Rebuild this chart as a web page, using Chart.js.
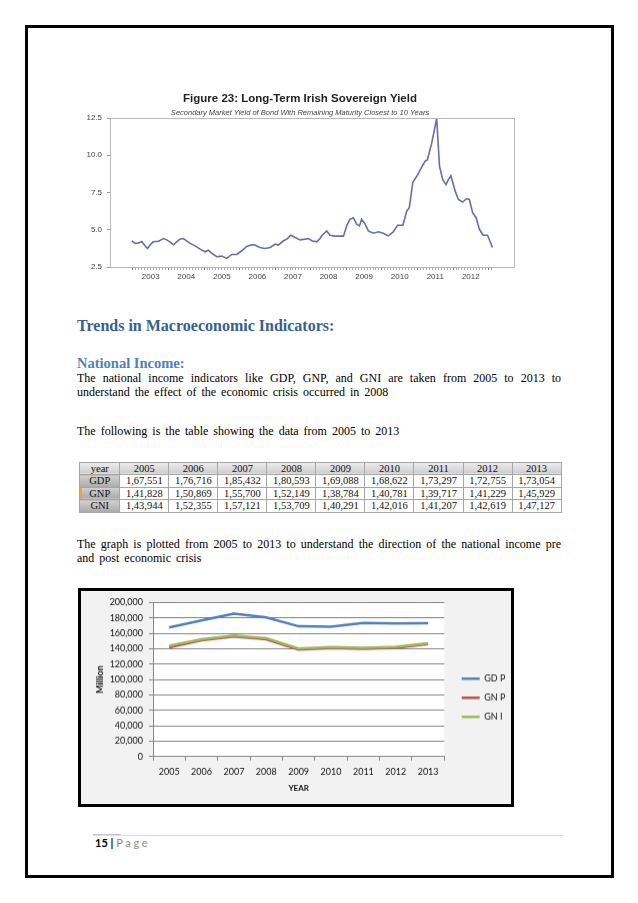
<!DOCTYPE html>
<html>
<head>
<meta charset="utf-8">
<script src="https://cdn.jsdelivr.net/npm/chart.js@4.4.1/dist/chart.umd.min.js"></script>
<style>
  html, body { margin: 0; padding: 0; background: #fff; }
  body { width: 638px; height: 903px; position: relative; overflow: hidden; }
  .abs { position: absolute; }
  #frame { left: 25px; top: 25px; width: 588.5px; height: 852.5px; border: 3px solid #000; box-sizing: border-box; }
  .txt { font-family: "Liberation Serif", serif; font-size: 12px; line-height: 12px; word-spacing: 2px; color: #000; white-space: nowrap; }
  .just { white-space: normal; text-align: justify; text-align-last: justify; width: 484px; }
  #h1 { font-family: "Liberation Serif", serif; font-weight: bold; font-size: 16px; line-height: 16px; color: #365f91; white-space: nowrap; }
  #h2 { font-family: "Liberation Serif", serif; font-weight: bold; font-size: 14.5px; line-height: 14.5px; color: #4f81bd; white-space: nowrap; }
  #incomeTable { left: 79.3px; top: 461.7px; width: 482.4px; border-collapse: collapse; table-layout: fixed;
    font-family: "Liberation Serif", serif; font-size: 10.5px; }
  #incomeTable td { border: 1px solid #a6a6a6; padding: 0; text-align: center; line-height: 11px; height: 11.5px; color: #111; }
  #incomeTable tr.head td { background: linear-gradient(#ededed, #cdcdcd); }
  #incomeTable td.name { background: linear-gradient(#d2d2d2, #a9a9a9); }
  #chartBox { left: 77.7px; top: 588.3px; width: 436.3px; height: 218.4px; border: 3px solid #000; box-sizing: border-box; background: #f2f2f2; }
  #footLine { left: 93px; top: 834.5px; width: 470px; height: 1px; background: #dcdcdc; }
  #footMark { left: 93px; top: 834px; width: 28px; height: 1px; background: #c4c4c4; }
  #footer { left: 95px; top: 836px; font-family: Lato, sans-serif; font-size: 11px; line-height: 14px; white-space: nowrap; }
</style>
</head>
<body>
<div id="frame" class="abs"></div>

<div class="abs" style="left:70px;top:90px;width:460px;height:200px"><canvas id="yieldChart"></canvas></div>

<div id="h1" class="abs" style="left:77px;top:318.3px">Trends in Macroeconomic Indicators:</div>
<div id="h2" class="abs" style="left:77px;top:356.2px">National Income:</div>
<div class="abs txt just" style="left:77px;top:371.6px">The national income indicators like GDP, GNP, and GNI are taken from 2005 to 2013 to</div>
<div class="abs txt" style="left:77px;top:386px">understand the effect of the economic crisis occurred in 2008</div>
<div class="abs txt" style="left:77px;top:425px">The following is the table showing the data from 2005 to 2013</div>

<table id="incomeTable" class="abs"></table>

<div class="abs txt just" style="left:77px;top:538.3px">The graph is plotted from 2005 to 2013 to understand the direction of the national income pre</div>
<div class="abs txt" style="left:77px;top:552.3px">and post economic crisis</div>

<div id="chartBox" class="abs"></div>
<div class="abs" style="left:80.7px;top:591.3px;width:440px;height:212.4px"><canvas id="incomeChart"></canvas></div>

<div id="footMark" class="abs"></div>
<div id="footLine" class="abs"></div>
<div id="footer" class="abs"><b>15</b> <b>|</b> <span style="color:#8a8a8a;letter-spacing:2.6px">Page</span></div>

<script>
// Figure 23: long-term Irish sovereign yield
const yieldDates = [
  2002.97, 2003.06, 2003.15, 2003.25, 2003.34, 2003.41, 2003.50, 2003.57, 2003.72, 2003.86,
  2003.95, 2004.04, 2004.14, 2004.23, 2004.32, 2004.42, 2004.51, 2004.60, 2004.75, 2004.89,
  2005.03, 2005.12, 2005.22, 2005.36, 2005.50, 2005.64, 2005.78, 2005.92, 2006.06, 2006.20,
  2006.34, 2006.43, 2006.57, 2006.71, 2006.86, 2007.00, 2007.09, 2007.23, 2007.33, 2007.44,
  2007.56, 2007.70, 2007.84, 2007.93, 2008.03, 2008.17, 2008.26, 2008.31, 2008.45, 2008.54,
  2008.68, 2008.92, 2009.01, 2009.10, 2009.20, 2009.29, 2009.37, 2009.43, 2009.53, 2009.62,
  2009.76, 2009.90, 2010.04, 2010.18, 2010.32, 2010.44, 2010.59, 2010.70, 2010.77, 2010.87,
  2010.98, 2011.07, 2011.21, 2011.28, 2011.40, 2011.54, 2011.62, 2011.71, 2011.80, 2011.87,
  2011.94, 2012.06, 2012.15, 2012.27, 2012.38, 2012.46, 2012.55, 2012.65, 2012.74, 2012.85,
  2012.97, 2013.11
];
const yieldValues = [
  4.26, 4.08, 4.10, 4.21, 3.92, 3.74, 4.03, 4.19, 4.23, 4.41,
  4.32, 4.19, 3.99, 4.19, 4.37, 4.41, 4.26, 4.10, 3.92, 3.70,
  3.52, 3.63, 3.41, 3.19, 3.23, 3.08, 3.34, 3.34, 3.59, 3.88,
  3.99, 3.97, 3.81, 3.74, 3.81, 4.03, 3.97, 4.26, 4.37, 4.63,
  4.48, 4.32, 4.37, 4.41, 4.26, 4.19, 4.41, 4.60, 4.92, 4.63,
  4.57, 4.57, 5.26, 5.70, 5.81, 5.37, 5.26, 5.70, 5.37, 4.92,
  4.77, 4.86, 4.77, 4.59, 4.86, 5.30, 5.30, 6.26, 6.48, 8.19,
  8.59, 8.99, 9.59, 9.70, 10.81, 12.48, 9.25, 8.37, 8.03, 8.37,
  8.63, 7.59, 7.03, 6.86, 7.08, 7.03, 6.14, 5.81, 5.03, 4.63,
  4.63, 3.81
];
const yieldTicks = [2.5, 5.0, 7.5, 10.0, 12.5];

// National income, 2005-2013 (Million)
const years = ['2005', '2006', '2007', '2008', '2009', '2010', '2011', '2012', '2013'];
const gdp = [167551, 176716, 185432, 180593, 169088, 168622, 173297, 172755, 173054];
const gnp = [141828, 150869, 155700, 152149, 138784, 140781, 139717, 141229, 145929];
const gni = [143944, 152355, 157121, 153709, 140291, 142016, 141207, 142619, 147127];
const tableNames = ['GDP', 'GNP', 'GNI'];
const legendNames = ['GD P', 'GN P', 'GN I'];
const lineColors = ['#4f81bd', '#c0504d', '#9bbb59'];

// table
const table = document.getElementById('incomeTable');
let html = '<colgroup><col style="width:40px">' + years.map(() => '<col>').join('') + '</colgroup>';
html += '<tr class="head"><td class="name">year</td>' + years.map(y => '<td>' + y + '</td>').join('') + '</tr>';
[gdp, gnp, gni].forEach((row, i) => {
  const mark = i === 1 ? ' style="box-shadow: inset 2px 0 0 #f0a040"' : '';
  html += '<tr><td class="name"' + mark + '>' + tableNames[i] + '</td>' +
    row.map(v => '<td>' + v.toLocaleString('en-IN') + '</td>').join('') + '</tr>';
});
table.innerHTML = html;

// box round the plot of figure 23
const boxPlugin = {
  id: 'plotBox',
  afterDraw(chart) {
    const a = chart.chartArea, c = chart.ctx;
    c.save();
    c.strokeStyle = '#b9b9b9';
    c.lineWidth = 1;
    c.strokeRect(a.left + 0.5, a.top + 0.5, a.right - a.left - 1, a.bottom - a.top);
    c.restore();
  }
};

// monthly ticks along the time axis, year label mid-year
const monthTicks = [];
for (let k = 0; k <= 121; k++) monthTicks.push(2003 + k / 12);

new Chart(document.getElementById('yieldChart'), {
  type: 'line',
  data: {
    datasets: [{
      data: yieldDates.map((d, i) => ({ x: d, y: yieldValues[i] })),
      borderColor: '#6b6bb5',
      borderWidth: 1.6,
      pointRadius: 0,
      tension: 0,
      fill: false
    }]
  },
  options: {
    responsive: true,
    maintainAspectRatio: false,
    animation: false,
    layout: { padding: { left: 15, right: 15, top: 0, bottom: 0 } },
    plugins: {
      legend: { display: false },
      tooltip: { enabled: false },
      title: {
        display: true,
        text: 'Figure 23: Long-Term Irish Sovereign Yield',
        font: { family: 'Liberation Sans', size: 11.5, weight: 'bold' },
        color: '#222',
        padding: { top: 2.1, bottom: 0 }
      },
      subtitle: {
        display: true,
        text: 'Secondary Market Yield of Bond With Remaining Maturity Closest to 10 Years',
        font: { family: 'Liberation Sans', size: 7.5, style: 'italic' },
        color: '#444',
        padding: { top: 2.3, bottom: 0.8 }
      }
    },
    scales: {
      x: {
        type: 'linear',
        min: 2002.356,
        max: 2013.742,
        afterBuildTicks: s => { s.ticks = monthTicks.map(v => ({ value: v })); },
        afterFit: s => { s.height = 23; },
        grid: {
          drawOnChartArea: false,
          tickLength: 3,
          tickColor: ctx => (Math.round((ctx.tick.value - 2003) * 12) % 12 === 0 ? '#777' : '#aaa')
        },
        border: { display: false },
        ticks: {
          autoSkip: false,
          maxRotation: 0,
          padding: 2,
          color: '#444',
          font: { family: 'Liberation Sans', size: 8 },
          callback: v => (Math.round((v - 2003) * 12) % 12 === 6 ? String(Math.floor(v)) : '')
        }
      },
      y: {
        min: 2.5,
        max: 12.5,
        afterBuildTicks: s => { s.ticks = yieldTicks.map(v => ({ value: v })); },
        afterFit: s => { s.width = 25; },
        grid: { drawOnChartArea: false, tickLength: 3, color: '#999' },
        border: { display: false },
        ticks: {
          padding: 5,
          color: '#444',
          font: { family: 'Liberation Sans', size: 8 },
          callback: v => v.toFixed(1)
        }
      }
    }
  },
  plugins: [boxPlugin]
});

// white plot area inside the grey chart box
const plotBg = {
  id: 'plotBg',
  beforeDraw(chart) {
    const a = chart.chartArea, c = chart.ctx;
    c.save();
    c.fillStyle = '#ffffff';
    c.fillRect(a.left, a.top, a.right - a.left, a.bottom - a.top);
    c.restore();
  }
};

// legend width, so the legend lines start where they do in the picture
const legendFont = '9px Lato';
const mctx = document.createElement('canvas').getContext('2d');
mctx.font = legendFont;
const textW = Math.max(...legendNames.map(t => mctx.measureText(t).width));
const legendW = 10 + 18 + 4.5 + textW + 10;
const canvasW = 440;
const padRight = canvasW - 370.7 - legendW;

const seriesData = [gdp, gnp, gni];
const drawOrder = [0, 2, 1];

new Chart(document.getElementById('incomeChart'), {
  type: 'line',
  data: {
    labels: years,
    datasets: seriesData.map((d, i) => ({
      label: legendNames[i],
      data: d,
      borderColor: lineColors[i],
      backgroundColor: lineColors[i],
      borderWidth: 2.5,
      pointRadius: 0,
      tension: 0,
      fill: false,
      order: drawOrder[i],
      yAxisID: 'y'
    }))
  },
  options: {
    responsive: true,
    maintainAspectRatio: false,
    animation: false,
    layout: { padding: { left: 0, right: padRight, top: 8.7, bottom: 8.7 } },
    plugins: {
      tooltip: { enabled: false },
      legend: {
        position: 'right',
        labels: {
          usePointStyle: true,
          pointStyle: 'line',
          pointStyleWidth: 18,
          padding: 10,
          color: '#111',
          font: { family: 'Lato', size: 9 },
          sort: (a, b) => a.datasetIndex - b.datasetIndex
        }
      }
    },
    scales: {
      x: {
        offset: true,
        afterFit: s => { s.height = 39; },
        grid: { offset: true, drawOnChartArea: false, tickLength: 4, color: '#868686' },
        border: { color: '#868686' },
        ticks: { padding: 5.6, color: '#111', font: { family: 'Lato', size: 9 } },
        title: {
          display: true,
          text: 'YEAR',
          color: '#111',
          font: { family: 'Lato', size: 8, weight: 'bold' },
          padding: { top: 0, bottom: 2.5 }
        }
      },
      y: {
        min: 0,
        max: 200000,
        afterFit: s => { s.width = 72; },
        grid: { color: '#868686', tickLength: 4 },
        border: { color: '#868686' },
        ticks: {
          stepSize: 20000,
          padding: 6,
          color: '#111',
          font: { family: 'Lato', size: 9 },
          callback: v => v.toLocaleString('en-US')
        },
        title: {
          display: true,
          text: 'Million',
          color: '#111',
          font: { family: 'Lato', size: 9, weight: 'bold' },
          padding: { top: 13.3, bottom: 0 }
        }
      },
      y2: {
        position: 'right',
        afterFit: s => { s.width = 7.4; },
        grid: { display: false },
        border: { display: false },
        ticks: { display: false }
      }
    }
  },
  plugins: [plotBg]
});
</script>
</body>
</html>
